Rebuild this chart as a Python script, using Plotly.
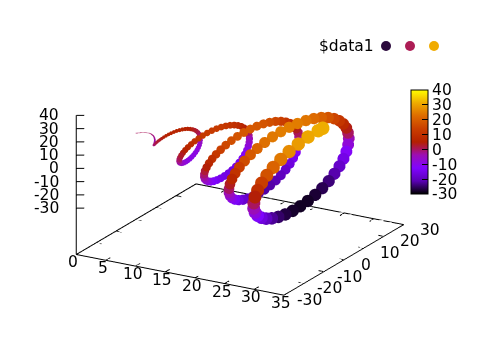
import plotly.graph_objects as go

# NOTE ON DATA: a 2D picture does not give x, y, z per dot and the dots overlap, so these are not
# per-dot readings. They are hand-evaluated estimates from a helix (x=t, y=t*sin t, z=t*cos t, step 0.15)
# fitted to landmarks: loop extremes, start and end points, and colours.
x_values = [
0,.15,.3,.45,.6,.75,.9,1.05,1.2,1.35,1.5,1.65,1.8,1.95,2.1,2.25,2.4,2.55,2.7,2.85,3,
3.15,3.3,3.45,3.6,3.75,3.9,4.05,4.2,4.35,4.5,4.65,4.8,4.95,5.1,5.25,5.4,5.55,5.7,5.85,6,6.15,
6.3,6.45,6.6,6.75,6.9,7.05,7.2,7.35,7.5,7.65,7.8,7.95,8.1,8.25,8.4,8.55,8.7,8.85,9,9.15,9.3,
9.45,9.6,9.75,9.9,10.05,10.2,10.35,10.5,10.65,10.8,10.95,11.1,11.25,11.4,11.55,11.7,11.85,12,12.15,12.3,12.45,
12.6,12.75,12.9,13.05,13.2,13.35,13.5,13.65,13.8,13.95,14.1,14.25,14.4,14.55,14.7,14.85,15,15.15,15.3,15.45,15.6,
15.75,15.9,16.05,16.2,16.35,16.5,16.65,16.8,16.95,17.1,17.25,17.4,17.55,17.7,17.85,18,18.15,18.3,18.45,18.6,18.75,
18.9,19.05,19.2,19.35,19.5,19.65,19.8,19.95,20.1,20.25,20.4,20.55,20.7,20.85,21,21.15,21.3,21.45,21.6,21.75,21.9,
22.05,22.2,22.35,22.5,22.65,22.8,22.95,23.1,23.25,23.4,23.55,23.7,23.85,24,24.15,24.3,24.45,24.6,24.75,24.9,25.05,
25.2,25.35,25.5,25.65,25.8,25.95,26.1,26.25,26.4,26.55,26.7,26.85,27,27.15,27.3,27.45,27.6,27.75,27.9,28.05,28.2,
28.35,28.5,28.65,28.8,28.95,29.1,29.25,29.4,29.55,29.7,29.85,30,30.15,30.3,30.45,30.6,30.75,30.9,31.05,31.2,31.35,31.42]

z_values = [
0,.15,.29,.41,.5,.55,.56,.52,.43,.3,.11,-.13,-.41,-.72,-1.06,-1.41,-1.77,-2.12,-2.44,-2.73,-2.97,
-3.15,-3.26,-3.29,-3.23,-3.08,-2.83,-2.49,-2.06,-1.54,-.95,-.29,.42,1.16,1.93,2.69,3.43,4.12,4.76,5.31,5.76,6.09,
6.3,6.37,6.27,6.03,5.63,5.08,4.38,3.55,2.6,1.55,.42,-.76,-1.97,-3.18,-4.36,-5.48,-6.51,-7.43,-8.2,-8.81,-9.23,
-9.45,-9.46,-9.24,-8.8,-8.15,-7.29,-6.23,-5,-3.61,-2.1,-.5,1.15,2.84,4.48,6.09,7.58,8.93,10.13,11.12,11.87,12.38,
12.59,12.55,12.19,11.55,10.64,9.47,8.05,6.4,4.57,2.59,.54,-1.6,-3.74,-5.83,-7.85,-9.71,-11.4,-12.86,-14.05,-14.96,-15.52,
-15.73,-15.63,-15.14,-14.29,-13.1,-11.6,-9.81,-7.76,-5.47,-3.04,-.5,2.11,4.7,7.24,9.66,11.9,13.88,15.61,17.01,18.04,18.68,
18.88,18.69,18.05,16.99,15.54,13.72,11.54,9.06,6.33,3.44,.43,-2.65,-5.71,-8.69,-11.51,-14.11,-16.42,-18.4,-20,-21.14,-21.83,
-22.01,-21.76,-20.96,-19.67,-17.94,-15.78,-13.22,-10.33,-7.14,-3.79,-.28,3.27,6.77,10.2,13.43,16.38,19,21.23,22.99,24.28,25,
25.15,24.82,23.84,22.34,20.3,17.8,14.85,11.55,7.89,4.06,.11,-3.92,-7.88,-11.73,-15.37,-18.67,-21.58,-24.06,-26.03,-27.4,-28.17,
-28.26,-27.87,-26.73,-24.97,-22.64,-19.79,-16.47,-12.7,-8.63,-4.31,.12,4.62,9.08,13.33,17.36,21.02,24.23,26.94,29.06,30.58,31.35,31.42]

y_values = [
0,.02,.09,.2,.34,.51,.7,.91,1.12,1.32,1.5,1.65,1.75,1.81,1.81,1.75,1.62,1.42,1.15,.82,.42,
-.03,-.52,-1.05,-1.59,-2.15,-2.68,-3.19,-3.66,-4.07,-4.4,-4.64,-4.78,-4.81,-4.72,-4.51,-4.17,-3.71,-3.14,-2.45,-1.67,-.82,
.11,1.07,2.06,3.04,4,4.89,5.71,6.43,7.04,7.5,7.78,7.92,7.86,7.61,7.18,6.56,5.77,4.81,3.71,2.48,1.15,
-.24,-1.67,-3.12,-4.53,-5.89,-7.14,-8.27,-9.24,-10.02,-10.61,-10.94,-11.04,-10.89,-10.49,-9.82,-8.92,-7.77,-6.44,-4.91,-3.23,-1.44,
.43,2.32,4.23,6.07,7.83,9.44,10.85,12.07,13.03,13.71,14.09,14.16,13.91,13.34,12.44,11.24,9.75,8.03,6.07,3.94,1.68,
-.66,-3.04,-5.39,-7.66,-9.81,-11.76,-13.47,-14.92,-16.05,-16.84,-17.25,-17.3,-16.92,-16.16,-15.03,-13.54,-11.69,-9.57,-7.18,-4.59,-1.86,
.95,3.79,6.6,9.29,11.84,14.13,16.12,17.8,19.1,19.99,20.4,20.41,19.93,18.97,17.6,15.78,13.59,11.07,8.23,5.2,1.99,
-1.3,-4.6,-7.87,-10.98,-13.91,-16.53,-18.82,-20.7,-22.16,-23.14,-23.55,-23.51,-22.92,-21.77,-20.12,-18.01,-15.45,-12.52,-9.26,-5.75,-2.08,
1.69,5.45,9.18,12.7,16,18.97,21.53,23.63,25.24,26.31,26.7,26.64,25.89,24.54,22.63,20.2,17.25,13.93,10.21,6.26,2.09,
-2.15,-6.38,-10.54,-14.49,-18.15,-21.45,-24.28,-26.61,-28.34,-29.49,-29.85,-29.73,-28.85,-27.3,-25.12,-22.37,-19.03,-15.3,-11.15,-6.71,-2.07,0]

x_ticks = [0, 5, 10, 15, 20, 25, 30, 35]
y_ticks = [-30, -20, -10, 0, 10, 20, 30]
z_ticks = [-30, -20, -10, 0, 10, 20, 30, 40]
key_label = "$data1"
key_colors = ["#2b0a3d", "#ad1d55", "#f0ab00"]

palette = [[0, "#000000"], [.125, "#5a01b4"], [.25, "#8004ff"], [.375, "#9c0eb4"], [.43, "#a9155f"],
           [.5, "#b42000"], [.625, "#c93e00"], [.75, "#dd6b00"], [.875, "#eeab00"], [1, "#ffff00"]]
FONT = "DejaVu Sans"
FS = 15.5
TXT = dict(family=FONT, size=FS, color="black")
X0, X1, Y0, Y1, Z0, Z1 = 0, 35, -30, 30, -65, 40
axis_common = dict(showgrid=False, zeroline=False, showbackground=False, showline=True, linecolor="black",
                   linewidth=2, ticks="", title=dict(text=""),
                   showspikes=False, showticklabels=False, tickmode="array")

fig = go.Figure()

# back edges of the base rectangle, and the tick marks on all four edges and the vertical axis
fx, fy, fz = [X0, X0, None, X0, X1, None], [Y0, Y1, None, Y1, Y1, None], [Z0, Z0, None, Z0, Z0, None]
for t in y_ticks:
    fx += [X0, 0.9, None, X1, X1 - 0.9, None]; fy += [t, t, None, t, t, None]; fz += [Z0, Z0, None, Z0, Z0, None]
for t in x_ticks:
    fx += [t, t, None, t, t, None]; fy += [Y1, Y1 - 2.2, None, Y0, Y0 + 2.2, None]; fz += [Z0, Z0, None, Z0, Z0, None]
for t in z_ticks:
    fx += [X0, X0 + 1, None]; fy += [Y0, Y0 + 1, None]; fz += [t, t, None]
fig.add_trace(go.Scatter3d(x=fx, y=fy, z=fz, mode="lines", line=dict(color="black", width=2), hoverinfo="skip"))

fig.add_trace(go.Scatter3d(
    x=x_values, y=y_values, z=z_values, mode="markers", hoverinfo="skip",
    marker=dict(size=[max(1.0, 0.43 * v + 2.2 * min(1, v / 8)) for v in x_values], color=z_values, colorscale=palette,
                cmin=-30, cmax=40, opacity=1, line=dict(width=0),
                colorbar=dict(x=411/480, xanchor="left", y=1-90/360, yanchor="top", lenmode="pixels", len=104,
                              thicknessmode="pixels", thickness=17, outlinecolor="black", outlinewidth=1,
                              tickmode="array", tickvals=z_ticks, ticktext=[str(v) for v in z_ticks],
                              ticks="inside", ticklen=6, tickcolor="black",
                              tickfont=TXT, xpad=0, ypad=0))))

shapes = []
for cx, col in zip([386, 410, 434], key_colors):
    shapes.append(dict(type="circle", xref="paper", yref="paper", x0=(cx-5)/480, x1=(cx+5)/480,
                       y0=1-(46+5)/360, y1=1-(46-5)/360, fillcolor=col, line=dict(width=0)))

notes = []
for t in x_ticks:
    notes.append(dict(x=t, y=Y0, z=Z0, text=str(t), showarrow=False, xanchor="center", yanchor="middle",
                      xshift=-3, yshift=-8, font=TXT))
for t in y_ticks:
    notes.append(dict(x=X1, y=t, z=Z0, text=str(t), showarrow=False, xanchor="center", yanchor="middle",
                      xshift=22 if t == 0 else 26, yshift=-5, font=TXT))
for t in z_ticks:
    notes.append(dict(x=X0, y=Y0, z=t, text=str(t), showarrow=False, xanchor="right", yanchor="middle",
                      xshift=-15, yshift=0, font=TXT))

fig.update_layout(
    width=480, height=360, margin=dict(l=0, r=0, t=0, b=0), showlegend=False, paper_bgcolor="white",
    shapes=shapes,
    annotations=[dict(text=key_label, xref="paper", yref="paper", x=376/480, y=1-46/360, xanchor="right",
                      yanchor="middle", showarrow=False, font=TXT)],
    scene=dict(
        domain=dict(x=[0, 1], y=[20/360, 1]),
        aspectmode="manual", aspectratio=dict(x=1.41, y=1.41, z=0.87),
        camera=dict(projection=dict(type="orthographic"), eye=dict(x=0.94, y=-1.63, z=0.68),
                    up=dict(x=0, y=0, z=1), center=dict(x=0, y=0, z=0)),
        annotations=notes,
        xaxis=dict(range=[X0, X1], tickvals=x_ticks, **axis_common),
        yaxis=dict(range=[Y0, Y1], tickvals=y_ticks, **axis_common),
        zaxis=dict(range=[Z0, Z1], tickvals=z_ticks, **axis_common),
    ),
)
fig.write_html("out.html", config=dict(displayModeBar=False), post_script="document.body.style.margin='0';")
